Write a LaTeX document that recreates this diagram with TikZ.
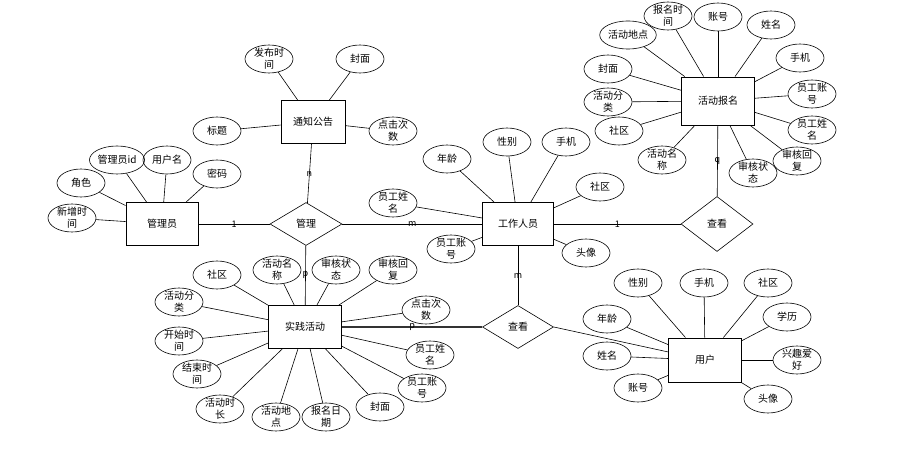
\documentclass[tikz,border=0pt]{standalone}
\usepackage{fontspec}
\setmainfont{Noto Sans CJK SC}
\usetikzlibrary{shapes.geometric}

\begin{document}
\begin{tikzpicture}[x=1pt,y=-1pt,line width=0.6pt,
    entity/.style={draw,line width=0.9pt,minimum width=72pt,minimum height=43pt,inner sep=0pt,font=\fontsize{10}{12}\selectfont},
    attr/.style={draw,ellipse,minimum width=48pt,minimum height=28pt,inner xsep=0pt,inner ysep=-4pt,align=center,font=\fontsize{10}{12}\selectfont},
    rel/.style={draw,diamond,minimum width=72pt,minimum height=43pt,inner sep=0pt,font=\fontsize{10}{12}\selectfont},
    card/.style={font=\fontsize{9}{10}\selectfont,inner sep=1pt}]
    % Fix the page size
    \useasboundingbox (0,0) rectangle (897,462);

    % Entities
    \node[entity,minimum width=64pt] (tzgg) at (313,122) {通知公告};
    \node[entity] (gly) at (162,224) {管理员};
    \node[entity,minimum width=71pt] (gzry) at (518,224) {工作人员};
    \node[entity,minimum width=73pt,minimum height=48pt] (hdbm) at (718,101) {活动报名};
    \node[entity,minimum width=73pt] (sjhd) at (305,327) {实践活动};
    \node[entity,minimum width=73pt,minimum height=44pt] (yh) at (705,360) {用户};

    % Relations
    \node[rel] (gl) at (306,224) {管理};
    \node[rel,minimum height=55pt] (ckA) at (717,224) {查看};
    \node[rel,minimum width=71pt] (ckB) at (518,327) {查看};

    % Attributes of the notice
    \foreach \x/\y/\txt [count=\i] in {269/59/{发布时\\间}, 360/59/封面, 217/131/标题, 393/131/{点击次\\数}} {
        \node[attr] (tz\i) at (\x,\y) {\txt};
        \draw (tz\i) -- (tzgg);
    }

    % Attributes of the administrator
    \foreach \x/\y/\txt [count=\i] in {117/160/管理员id, 167/160/用户名, 217/174/密码, 81/183/角色, 72/218/{新增时\\间}} {
        \node[attr] (gl\i) at (\x,\y) {\txt};
        \draw (gl\i) -- (gly);
    }

    % Attributes of the staff
    \foreach \x/\y/\txt [count=\i] in {447/159/年龄, 507/142/性别, 566/142/手机, 600/187/社区, 586/253/头像, 451/249/{员工账\\号}, 393/203/{员工姓\\名}} {
        \node[attr] (gz\i) at (\x,\y) {\txt};
        \draw (gz\i) -- (gzry);
    }

    % Attributes of the sign-up
    \foreach \x/\y/\txt [count=\i] in {668/16/{报名时\\间}, 718/17/账号, 771/25/姓名, 800/58/手机, 608/69/封面, 812/94/{员工账\\号}, 608/102/{活动分\\类}, 619/131/社区, 812/130/{员工姓\\名}, 662/160/{活动名\\称}, 753/173/{审核状\\态}, 797/161/{审核回\\复}} {
        \node[attr] (bm\i) at (\x,\y) {\txt};
        \draw (bm\i) -- (hdbm);
    }
    \node[attr,minimum width=54pt] (bmdd) at (628,35) {活动地点};
    \draw (bmdd) -- (hdbm);

    % Attributes of the activity
    \foreach \x/\y/\txt [count=\i] in {217/275/社区, 277/270/{活动名\\称}, 336/270/{审核状\\态}, 393/270/{审核回\\复}, 179/302/{活动分\\类}, 426/310/{点击次\\数}, 179/341/{开始时\\间}, 430/355/{员工姓\\名}, 197/374/{结束时\\间}, 422/388/{员工账\\号}, 380/407/封面, 220/409/{活动时\\长}, 276/417/{活动地\\点}, 326/417/{报名日\\期}} {
        \node[attr] (sj\i) at (\x,\y) {\txt};
        \draw (sj\i) -- (sjhd);
    }

    % Attributes of the user
    \foreach \x/\y/\txt [count=\i] in {638/283/性别, 704/283/手机, 768/283/社区, 607/319/年龄, 787/317/学历, 607/356/姓名, 797/360/{兴趣爱\\好}, 638/388/账号, 768/399/头像} {
        \node[attr] (yh\i) at (\x,\y) {\txt};
        \draw (yh\i) -- (yh);
    }

    % Relationship lines with cardinalities
    \draw (tzgg) -- node[card] {n} (gl);
    \draw (gly) -- node[card] {1} (gl);
    \draw (gl) -- node[card] {m} (gzry);
    \draw (gl) -- node[card] {p} (sjhd);
    \draw (gzry) -- node[card] {1} (ckA);
    \draw (hdbm) -- node[card] {q} (ckA);
    \draw (gzry) -- node[card] {m} (ckB);
    \draw[line width=1.1pt,black!80] (sjhd) -- node[card,black] {p} (ckB);
    \draw (ckB.east) -- (yh);
\end{tikzpicture}
\end{document}
